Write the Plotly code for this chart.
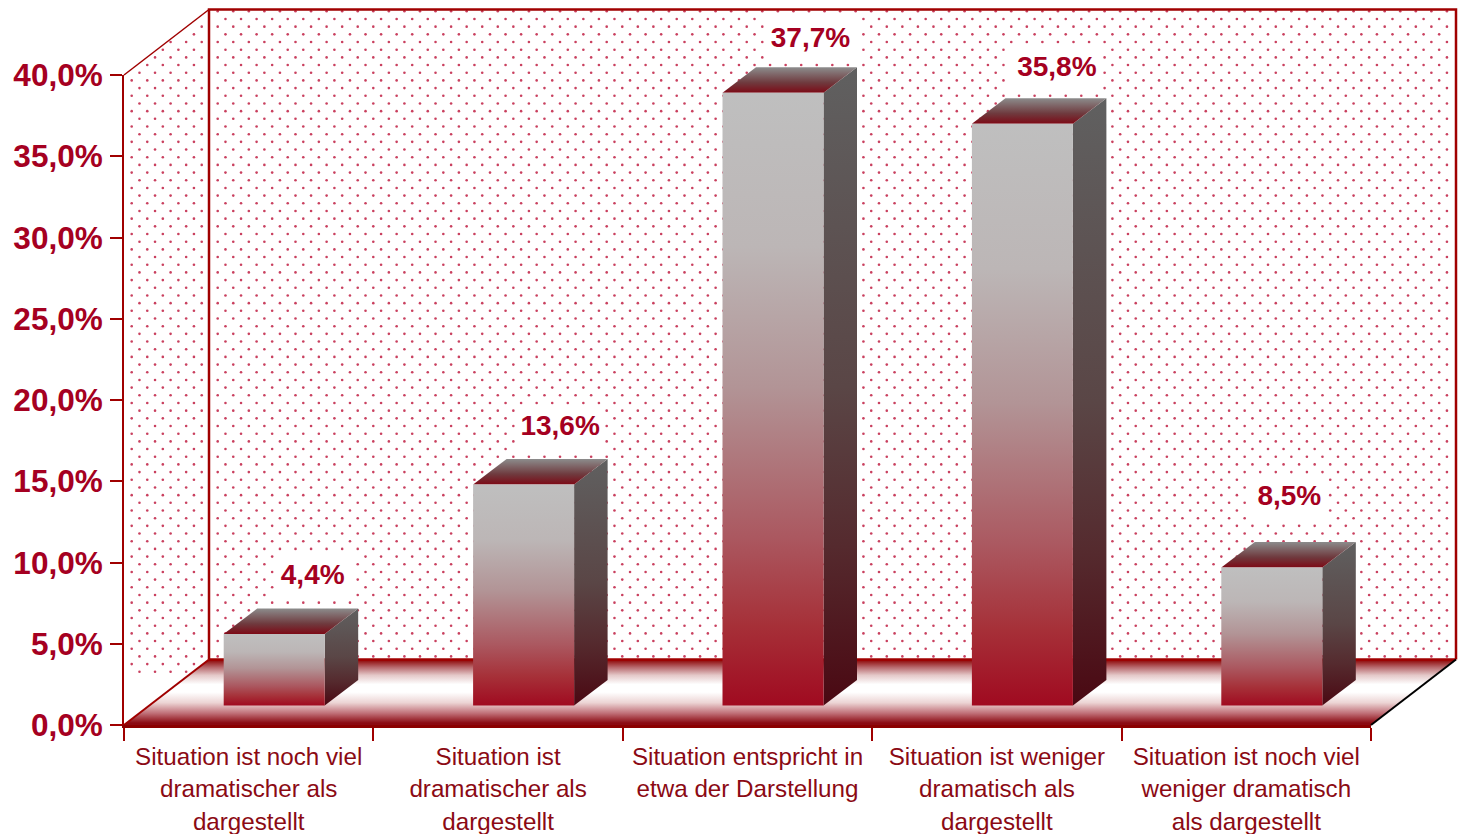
import numpy as np
import plotly.graph_objects as go

# ---------- data ----------
category_lines = [
    ["Situation ist noch viel", "dramatischer als", "dargestellt"],
    ["Situation ist", "dramatischer als", "dargestellt"],
    ["Situation entspricht in", "etwa der Darstellung"],
    ["Situation ist weniger", "dramatisch als", "dargestellt"],
    ["Situation ist noch viel", "weniger dramatisch", "als dargestellt"],
]
values = [4.4, 13.6, 37.7, 35.8, 8.5]
y_ticks = [0, 5, 10, 15, 20, 25, 30, 35, 40]
y_tick_labels = ["0,0%", "5,0%", "10,0%", "15,0%", "20,0%", "25,0%", "30,0%", "35,0%", "40,0%"]

# ---------- geometry of the pseudo-3D look ----------
W, H = 1459, 834
L, R, T, B = 124, 1371, 75, 725
PX_X = (R - L) / 5          # pixels per category
PX_Y = (B - T) / 40         # pixels per percentage point
FLOOR_DX = 85 / PX_X
FLOOR_DY = 65.5 / PX_Y
BAR_SHIFT = 25.5 / PX_X
BAR_HALF = 50.5 / PX_X
BAR_BASE = 19.5 / PX_Y
BAR_DX = 33.5 / PX_X
BAR_DY = 25.5 / PX_Y
LABEL_NUDGE = [(5, -32), (3, -31), (4, -27), (1, -29), (-16, -44)]  # pixels from the bar's back edge
WALL_TOP = 40 + FLOOR_DY

RED = "#a00000"
DOT = "#c9405f"
LABEL = "#a50021"


def px_x(px):
    return (px - L) / PX_X


def px_y(px):
    return (B - px) / PX_Y


fig = go.Figure()


def poly(xs, ys, stops=None, color=None):
    kw = {}
    if stops:
        kw["fillgradient"] = dict(type="vertical", colorscale=stops)
    else:
        kw["fillcolor"] = color
    fig.add_trace(go.Scatter(x=list(xs) + [xs[0]], y=list(ys) + [ys[0]], mode="lines",
                             line=dict(width=0), fill="toself",
                             hoverinfo="skip", showlegend=False, **kw))


def line(xs, ys, color, width):
    fig.add_trace(go.Scatter(x=xs, y=ys, mode="lines", line=dict(color=color, width=width),
                             hoverinfo="skip", showlegend=False))


# label anchor points
lab_x, lab_y, lab_txt = [], [], []
for i, v in enumerate(values):
    cx = i + 0.5 + BAR_SHIFT + BAR_DX
    top = BAR_BASE + v + BAR_DY
    lab_x.append(cx + LABEL_NUDGE[i][0] / PX_X)
    lab_y.append(top - LABEL_NUDGE[i][1] / PX_Y)
    lab_txt.append(f"{v:.1f}%".replace(".", ","))

# ---------- dotted wall texture (clear around the value labels) ----------
dx, dy = 15.56, 7.68
dot_px = []
for k in range(0, 87):
    yy = 11.3 + k * dy
    for j in range(-1, 82):
        xx = 217.7 + j * dx + (dx / 2 if k % 2 else 0)
        if 211 < xx < 1454 and yy < 657:
            dot_px.append((xx, yy))
    for j in range(0, 6):
        xx = 131.7 + j * dx + (0 if k % 2 else dx / 2)
        # inside the slanted side wall
        top_edge = T + (xx - 124) * (-65 / 85)
        bot_edge = B - (xx - 124) * (66 / 85)
        if 126 < xx < 208 and top_edge + 2 < yy < bot_edge - 2:
            dot_px.append((xx, yy))
dots = []
for xx, yy in dot_px:
    keep = True
    for lx, ly, t in zip(lab_x, lab_y, lab_txt):
        half = 46 if len(t) == 5 else 39
        if abs(xx - (L + lx * PX_X)) < half and abs(yy - (B - ly * PX_Y)) < 22:
            keep = False
    if keep:
        dots.append((xx, yy))
fig.add_trace(go.Scatter(x=[px_x(d[0]) for d in dots], y=[px_y(d[1]) for d in dots], mode="markers",
                         marker=dict(size=2.6, color=DOT, line=dict(width=0)),
                         hoverinfo="skip", showlegend=False))

# ---------- floor and wall frame ----------
poly([0, 5, 5 + FLOOR_DX, FLOOR_DX], [0, 0, FLOOR_DY, FLOOR_DY],
     stops=[[0, "#8b0a12"], [0.03, "#8b0a12"], [0.18, "#c07078"], [0.34, "#ecd4d4"], [0.5, "#ffffff"],
            [0.62, "#ffffff"], [0.76, "#e4c8c8"], [0.88, "#b86a6e"], [1, "#8b0000"]])
line([FLOOR_DX, 5 + FLOOR_DX], [FLOOR_DY, FLOOR_DY], RED, 2.5)
line([FLOOR_DX, FLOOR_DX, 5 + FLOOR_DX, 5 + FLOOR_DX],
     [FLOOR_DY, WALL_TOP, WALL_TOP, FLOOR_DY], RED, 2.5)
line([0, FLOOR_DX], [40, WALL_TOP], RED, 1.5)
line([0, FLOOR_DX], [0, FLOOR_DY], RED, 2)
line([5, 5 + FLOOR_DX], [0, FLOOR_DY], "#000000", 2)

# ---------- bars ----------
FRONT = [[0, "#a00a20"], [0.13, "#a63038"], [0.275, "#ab5860"], [0.52, "#b29496"], [0.75, "#bcb6b6"], [1, "#bfbfbf"]]
TOP = [[0, "#7d0a16"], [0.4, "#6f3a3e"], [1, "#8c8c8c"]]
SIDE = [[0, "#4a0812"], [0.25, "#552a2e"], [0.5, "#5a4646"], [1, "#606060"]]
for i, v in enumerate(values):
    c = i + 0.5 + BAR_SHIFT
    x0, x1 = c - BAR_HALF, c + BAR_HALF
    y0, y1 = BAR_BASE, BAR_BASE + v
    poly([x1, x1 + BAR_DX, x1 + BAR_DX, x1], [y0, y0 + BAR_DY, y1 + BAR_DY, y1], stops=SIDE)
    poly([x0, x1, x1 + BAR_DX, x0 + BAR_DX], [y1, y1, y1 + BAR_DY, y1 + BAR_DY], stops=TOP)
    poly([x0, x1, x1, x0], [y0, y0, y1, y1], stops=FRONT)

# ---------- value labels ----------
fig.add_trace(go.Scatter(x=lab_x, y=lab_y, text=lab_txt, mode="text", textposition="middle center",
                         textfont=dict(family="Liberation Sans", size=28, color=LABEL, weight="bold"),
                         hoverinfo="skip", showlegend=False))

# the visible axes live on their own pair; this invisible trace ties them to the data
fig.add_trace(go.Scatter(x=[i + 0.5 for i in range(5)], y=values, xaxis="x2", yaxis="y2", mode="markers",
                         marker=dict(opacity=0), hoverinfo="skip", showlegend=False))

# category tick text: outer font sets the line pitch, inner span the glyph size
tick_text = ["<br>".join(f'<span style="font-size:24.2px">{s}</span>' for s in lines)
             for lines in category_lines]

fig.update_layout(
    width=W, height=H, autosize=False,
    margin=dict(l=0, r=0, t=0, b=0),
    paper_bgcolor="white", plot_bgcolor="rgba(0,0,0,0)",
    showlegend=False,
    # full-page drawing axes: same scale as the visible ones, so the 3D depth can overhang
    xaxis=dict(range=[px_x(0), px_x(W)], domain=[0, 1], visible=False, fixedrange=True, automargin=False),
    yaxis=dict(range=[px_y(H), px_y(0)], domain=[0, 1], visible=False, fixedrange=True, automargin=False),
    xaxis2=dict(range=[0, 5], domain=[L / W, R / W], anchor="y2", tickmode="array", automargin=False,
                tickvals=[i + 0.5 for i in range(5)], ticktext=tick_text,
                ticks="", showgrid=False, zeroline=False, showline=True, linecolor="#8b0000", linewidth=3,
                tickfont=dict(family="Liberation Sans", size=24.9, color="#8b0a14"),
                ticklabelstandoff=7, tickangle=0,
                minor=dict(tickmode="array", tickvals=list(range(6)), ticks="outside", ticklen=13,
                           tickwidth=2, tickcolor=RED, showgrid=False)),
    yaxis2=dict(range=[0, 40], domain=[(H - B) / H, (H - T) / H], anchor="x2", tickmode="array", automargin=False,
                tickvals=y_ticks, ticktext=y_tick_labels,
                ticks="outside", ticklen=12, tickwidth=2, tickcolor=RED, showgrid=False, zeroline=False,
                showline=True, linecolor=RED, linewidth=2,
                tickfont=dict(family="Liberation Sans", size=31.5, color=LABEL, weight="bold"),
                ticklabelstandoff=1),
)

fig.write_html("out.html", config=dict(displayModeBar=False),
               post_script="document.body.style.margin='0';document.body.style.overflow='hidden';")
